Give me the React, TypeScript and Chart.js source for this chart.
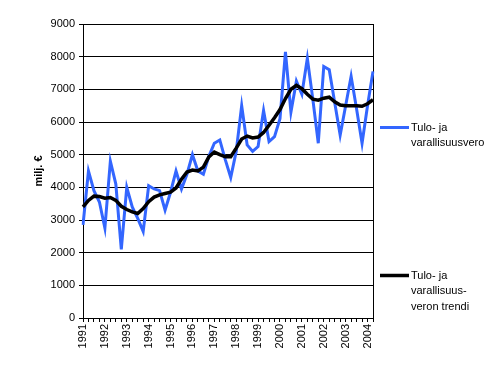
import React, { useEffect, useRef } from "react";
import { Chart, registerables } from "chart.js";

Chart.register(...registerables);

const years = ["1991","1992","1993","1994","1995","1996","1997","1998","1999","2000","2001","2002","2003","2004"];
const quartersPerYear = 4;
const lastYearQuarters = 2;

const taxValues = [
  2850, 4500, 3900, 3550,
  2750, 4800, 4100, 2100,
  4000, 3400, 3050, 2650,
  4050, 3950, 3900, 3300,
  3850, 4500, 3950, 4400,
  5000, 4500, 4400, 4950,
  5350, 5450, 4850, 4300,
  5100, 6500, 5300, 5100,
  5250, 6350, 5400, 5550,
  6100, 8150, 6300, 7250,
  6850, 7950, 6700, 5350,
  7700, 7600, 6600, 5600,
  6500, 7400, 6400, 5350,
  6500, 7550,
];

const trendValues = [
  3400, 3600, 3730, 3720,
  3670, 3690, 3600, 3420,
  3320, 3250, 3200, 3350,
  3560, 3700, 3770, 3810,
  3850, 3980, 4250, 4470,
  4530, 4500, 4620, 4930,
  5080, 5000, 4940, 4940,
  5200, 5480, 5570, 5510,
  5540, 5680, 5900, 6130,
  6380, 6720, 7000, 7120,
  7020, 6850, 6700, 6670,
  6730, 6760, 6620, 6520,
  6500, 6500, 6500, 6480,
  6560, 6680,
];

const legendTax = ["Tulo- ja", "varallisuusvero"];
const legendTrend = ["Tulo- ja", "varallisuus-", "veron trendi"];
const yTitle = "milj. €";

const categories: string[] = [];
years.forEach((y, yi) => {
  const n = yi === years.length - 1 ? lastYearQuarters : quartersPerYear;
  for (let q = 1; q <= n; q++) categories.push(y + "Q" + q);
});

const BLUE = "#3366FF";
const FONT = "'Liberation Sans', Arial, sans-serif";

export default function App() {
  const ref = useRef<HTMLCanvasElement | null>(null);
  useEffect(() => {
    if (!ref.current) return;
    const extras = {
      id: "extras",
      beforeDatasetsDraw(chart: any) {
        const { ctx, chartArea } = chart;
        ctx.save();
        ctx.strokeStyle = "#000";
        ctx.lineWidth = 1;
        ctx.strokeRect(
          Math.round(chartArea.left) + 0.5,
          Math.round(chartArea.top) + 0.5,
          Math.round(chartArea.right - chartArea.left),
          Math.round(chartArea.bottom - chartArea.top)
        );
        ctx.restore();
      },
      afterDraw(chart: any) {
        const { ctx, chartArea } = chart;
        ctx.save();
        ctx.translate(38.5, (chartArea.top + chartArea.bottom) / 2);
        ctx.rotate(-Math.PI / 2);
        ctx.font = "bold 11px " + FONT;
        ctx.fillStyle = "#000";
        ctx.textAlign = "center";
        ctx.textBaseline = "middle";
        ctx.fillText(yTitle, 0, 0);
        ctx.restore();

        ctx.save();
        ctx.font = "11px " + FONT;
        ctx.fillStyle = "#000";
        ctx.textAlign = "left";
        ctx.textBaseline = "middle";
        const drawEntry = (y: number, color: string, width: number, lines: string[]) => {
          ctx.strokeStyle = color;
          ctx.lineWidth = width;
          ctx.beginPath();
          ctx.moveTo(380, y);
          ctx.lineTo(409, y);
          ctx.stroke();
          lines.forEach((t, i) => ctx.fillText(t, 411, y + i * 15.5));
        };
        drawEntry(127.5, BLUE, 3, legendTax);
        drawEntry(275.5, "#000", 3.5, legendTrend);
        ctx.restore();
      },
    };
    const chart = new Chart(ref.current, {
      type: "line",
      data: {
        labels: categories,
        datasets: [
          {
            label: legendTax.join(" "),
            data: taxValues,
            borderColor: BLUE,
            backgroundColor: BLUE,
            borderWidth: 3,
            pointRadius: 0,
            tension: 0,
            order: 2,
          },
          {
            label: legendTrend.join(" "),
            data: trendValues,
            borderColor: "#000",
            backgroundColor: "#000",
            borderWidth: 3.5,
            pointRadius: 0,
            tension: 0,
            order: 1,
          },
        ],
      },
      options: {
        animation: false,
        responsive: false,
        maintainAspectRatio: false,
        layout: { padding: { top: 24, left: 0, right: 117, bottom: 0 } },
        plugins: { legend: { display: false }, tooltip: { enabled: false } },
        scales: {
          x: {
            type: "category",
            offset: false,
            grid: {
              display: true,
              drawOnChartArea: false,
              drawTicks: true,
              tickLength: 4,
              color: "#000",
              offset: false,
            },
            border: { display: true, color: "#000" },
            ticks: {
              autoSkip: false,
              maxRotation: 90,
              minRotation: 90,
              padding: 2,
              color: "#000",
              font: { family: FONT, size: 11 },
              callback: (_v: any, i: number) => (i % quartersPerYear === 0 ? categories[i].slice(0, 4) : ""),
            },
            afterFit: (s: any) => {
              s.height = 50;
            },
          },
          y: {
            min: 0,
            max: 9000,
            ticks: {
              stepSize: 1000,
              padding: 4,
              color: "#000",
              font: { family: FONT, size: 11 },
              callback: (v: any) => String(v),
            },
            grid: { color: "#000", tickLength: 4, lineWidth: 1 },
            border: { display: true, color: "#000" },
            afterFit: (s: any) => {
              s.width = 83;
            },
          },
        },
      },
      plugins: [extras],
    } as any);
    return () => chart.destroy();
  }, []);
  return (
    <div style={{ position: "fixed", left: 0, top: 0, width: 490, height: 368, background: "#fff" }}>
      <canvas ref={ref} width={490} height={368} style={{ width: 490, height: 368, display: "block" }} />
    </div>
  );
}
